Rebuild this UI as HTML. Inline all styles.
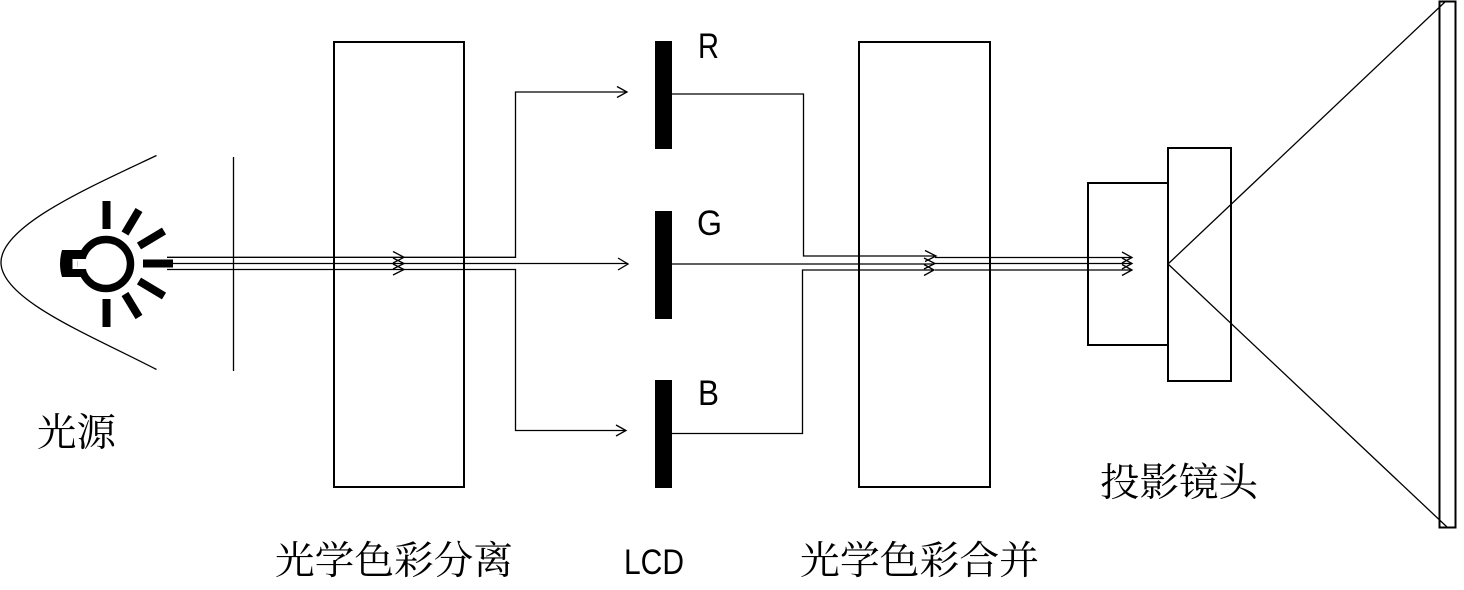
<!DOCTYPE html>
<html><head><meta charset="utf-8"><style>
html,body{margin:0;padding:0;background:#fff}
svg{display:block}
.cjk{font-family:"Noto Serif CJK SC","Liberation Serif",serif;font-size:39px;fill:#000}
.lat{font-family:"Liberation Sans",sans-serif;font-size:35px;fill:#000}
</style></head><body>
<svg width="1464" height="590" viewBox="0 0 1464 590" xmlns="http://www.w3.org/2000/svg">
<g fill="none" stroke="#000" stroke-width="2">
<rect x="334" y="42" width="130" height="445"/>
<rect x="859" y="42" width="131" height="445"/>
<rect x="1088" y="183" width="80" height="162"/>
<rect x="1168" y="148" width="63" height="233"/>
<rect x="1439.500" y="1.500" width="16" height="526"/>
</g>
<g fill="none" stroke="#000" stroke-width="1.300">
<path d="M156.500 155.500C90 187 0 226 1 263C2 300 90 335 156.500 369.500"/>
<path d="M233.500 157V371"/>
<path d="M167 257.300H404M167 263.500H404M167 269.500H404"/>
<path d="M403 257.300H515.500V92H627"/>
<path d="M403 263.500H628"/>
<path d="M403 269.500H515.500V430.500H626"/>
<path d="M672 94H803.500V256H936"/>
<path d="M672 264H934"/>
<path d="M672 433.500H802.500V270H934"/>
<path d="M935 257.500H1132M935 263.500H1132M935 270H1132"/>
<path d="M1446 1L1168 264L1447 527"/>
<path d="M393 251.500L404 257.300L393 263M393 258L404 263.500L393 269M393 264L404 269.500L393 275"/>
<path d="M617 86.500L627 92L617 97.500M618 258L628 264L618 270M616 425L626 430.500L616 436"/>
<path d="M925 250.500L936 256L925 261.500M924 258L935 263.500L924 269M924 264.500L934 270L924 275.500"/>
<path d="M1122 252L1132 257.500L1122 263M1122 258L1132 263.500L1122 269M1122 264.500L1132 270L1122 275.500"/>
</g>
<g fill="#000">
<rect x="655" y="41" width="17" height="108"/>
<rect x="655" y="211" width="17" height="108"/>
<rect x="655" y="380" width="17" height="108"/>
</g>
<path d="M62 250H84Q87 250 90 245L93 250Q90 259 84 259H72.500V269H84Q90 269 93 278L90 283Q87 277 84 277H62Q58 264 62 250Z" fill="#000"/>
<circle cx="106" cy="264" r="24.500" fill="#fff" stroke="#000" stroke-width="7.500"/>
<rect x="78" y="259" width="14" height="10" fill="#fff"/>
<g stroke="#000" stroke-width="8" fill="none">
<path d="M106.500 201V229M106.500 299V327"/>
<path d="M139 210L125 233.500M139 317L125 294"/>
<path d="M164 231L139 246M164 296L139 281"/>
</g>
<rect x="143" y="259.500" width="30" height="8" fill="#000"/>
<text class="cjk" x="37" y="446" textLength="79" lengthAdjust="spacingAndGlyphs">光源</text>
<text class="cjk" x="275" y="574" textLength="238" lengthAdjust="spacingAndGlyphs">光学色彩分离</text>
<text class="cjk" x="800" y="574" textLength="239" lengthAdjust="spacingAndGlyphs">光学色彩合并</text>
<text class="cjk" x="1100" y="496" textLength="158" lengthAdjust="spacingAndGlyphs">投影镜头</text>
<text class="lat" x="624" y="574" textLength="60" lengthAdjust="spacingAndGlyphs">LCD</text>
<text class="lat" x="698" y="58" textLength="21" lengthAdjust="spacingAndGlyphs">R</text>
<text class="lat" x="697" y="235" textLength="25" lengthAdjust="spacingAndGlyphs">G</text>
<text class="lat" x="698" y="405" textLength="21" lengthAdjust="spacingAndGlyphs">B</text>
</svg>
</body></html>
